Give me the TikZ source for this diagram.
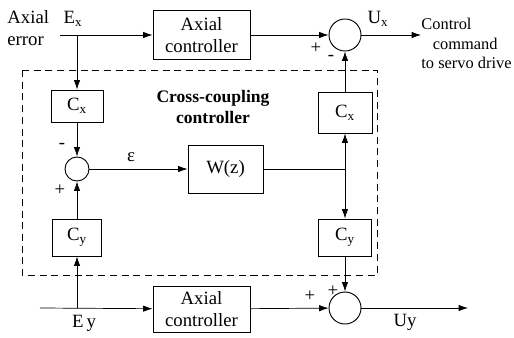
\documentclass[tikz,border=0pt]{standalone}
\usepackage{fontspec}
\setmainfont{Liberation Serif}
\usetikzlibrary{arrows.meta, positioning, calc}

\begin{document}
\begin{tikzpicture}[x=0.03cm, y=-0.03cm,
  txt/.style={font=\fontsize{16}{19}\selectfont, inner sep=1pt},
  block/.style={rectangle, draw, thick, align=center, font=\fontsize{16}{19}\selectfont, inner sep=1pt},
  sum/.style={circle, draw, thick, inner sep=0pt},
  arrow/.style={-{Latex[length=2.8mm, width=1.9mm]}, semithick},
  link/.style={semithick}
]
  \useasboundingbox (0,0) rectangle (514,337);

  % blocks
  \node[block, minimum width=2.91cm, minimum height=1.47cm] (ctrlx) at (201.5,35) {Axial\\controller};
  \node[block, minimum width=2.91cm, minimum height=1.38cm] (ctrly) at (201.5,309) {Axial\\controller};
  \node[block, minimum width=1.56cm, minimum height=0.96cm] (cx) at (77,106) {C\textsubscript{x}};
  \node[block, minimum width=1.47cm, minimum height=1.11cm] (cyl) at (77,237.5) {C\textsubscript{y}};
  \node[block, minimum width=2.25cm, minimum height=1.44cm] (wz) at (225.5,169) {W(z)};
  \node[block, minimum width=1.62cm, minimum height=1.23cm] (cxr) at (345,112.5) {C\textsubscript{x}};
  \node[block, minimum width=1.59cm, minimum height=1.11cm] (cyr) at (345,237.5) {C\textsubscript{y}};

  % summing junctions
  \node[sum, minimum size=0.96cm] (sumx) at (345,35) {};
  \node[sum, minimum size=0.72cm] (sume) at (77,169) {};
  \node[sum, minimum size=0.96cm] (sumy) at (345,308) {};

  % frame of the cross-coupling controller
  \draw[thick, dash pattern=on 6pt off 4pt] (22,70) rectangle (377,275);
  \node[txt, font=\fontsize{15}{18}\selectfont\bfseries, align=center] (title) at (213,107) {Cross-coupling\\controller};

  % inputs and outputs
  \coordinate (inx) at (60,35);
  \coordinate (tapx) at (77,35);
  \coordinate (iny) at (40,308);
  \coordinate (tapy) at (77,308);
  \coordinate (jn) at (345,169);
  \coordinate (outx) at (421,35);
  \coordinate (outy) at (468,308);
  \node[txt, anchor=west, align=left] (errx) at (6,28) {Axial\\error};
  \node[txt] (ex) at (73,19) {E\textsubscript{x}};
  \node[txt] (ey) at (84,323) {E\,y};
  \node[txt] (ux) at (378,19) {U\textsubscript{x}};
  \node[txt] (uy) at (405,322) {Uy};
  \node[txt, font=\fontsize{14}{16.5}\selectfont, anchor=north west, align=left] (cmd) at (420,17) {Control\\\hspace*{0.7em}command\\to servo drive};
  \node[txt] (eps) at (131,157) {ε};

  % signs
  \node[txt] (px) at (316,48) {+};
  \node[txt] (mx) at (331,58) {-};
  \node[txt] (me) at (62,146) {-};
  \node[txt] (pe) at (60,190) {+};
  \node[txt] (py1) at (310,296) {+};
  \node[txt] (py2) at (333,291) {+};

  % connectors
  \draw[arrow] (inx) -- (ctrlx);
  \draw[arrow] (ctrlx) -- (sumx);
  \draw[arrow] (sumx) -- (outx);
  \draw[arrow] (tapx) -- (cx);
  \draw[arrow] (cx) -- (sume);
  \draw[arrow] (cyl) -- (sume);
  \draw[arrow] (tapy) -- (cyl);
  \draw[arrow] (sume) -- (wz);
  \draw[link] (wz) -- (jn);
  \draw[arrow] (jn) -- (cxr);
  \draw[arrow] (jn) -- (cyr);
  \draw[arrow] (cxr) -- (sumx);
  \draw[arrow] (cyr) -- (sumy);
  \draw[arrow] (iny) -- (ctrly);
  \draw[arrow] (ctrly) -- (sumy);
  \draw[arrow] (sumy) -- (outy);
\end{tikzpicture}
\end{document}
